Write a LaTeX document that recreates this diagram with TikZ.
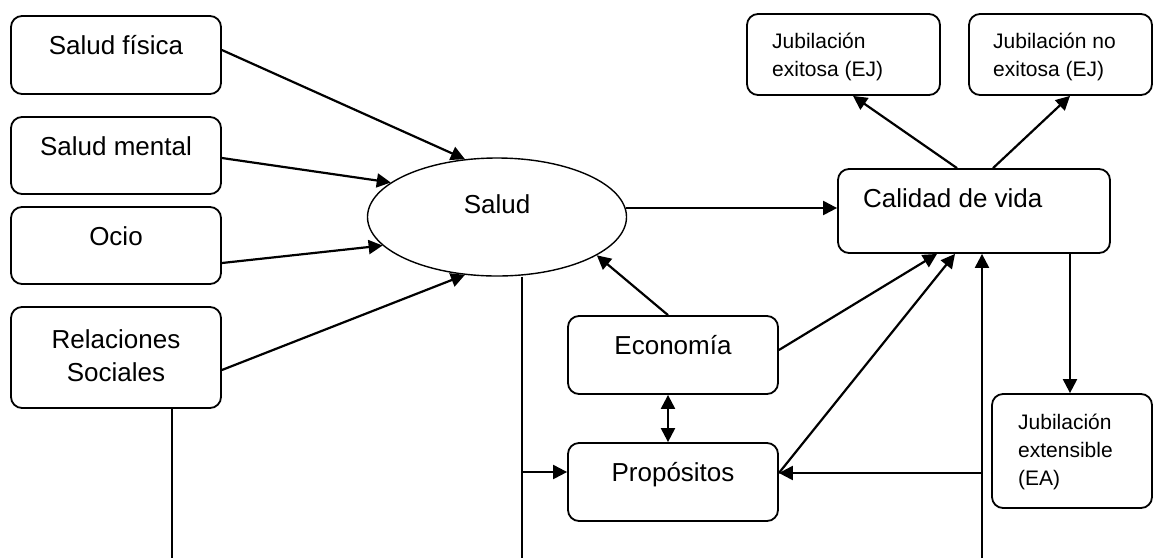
\documentclass[tikz,border=0pt]{standalone}
\usepackage{fontspec}
\setmainfont{Liberation Sans}
\usetikzlibrary{arrows.meta,shapes.geometric}
\tikzset{
  box/.style={draw, line width=1.8pt, rounded corners=11pt, inner sep=0pt},
  big/.style={font=\fontsize{26}{33}\selectfont, inner sep=0pt},
  small/.style={font=\fontsize{21}{28}\selectfont, inner sep=0pt, align=left},
  tipA/.tip={Triangle[length=14pt,width=14pt]},
  conn/.style={line width=2.2pt, -tipA},
  plain/.style={line width=2.2pt},
}
\begin{document}
\begin{tikzpicture}[x=1pt,y=-1pt]
\useasboundingbox (0,0) rectangle (1153,558);
% left boxes
\node[box, minimum width=210, minimum height=78] (sf) at (116,55) {};
\node[big, anchor=base] (tsf) at (116,54) {Salud física};
\node[box, minimum width=210, minimum height=77] (sm) at (116,155.5) {};
\node[big, anchor=base] (tsm) at (116,155) {Salud mental};
\node[box, minimum width=210, minimum height=77] (oc) at (116,245.5) {};
\node[big, anchor=base] (toc) at (116,245) {Ocio};
\node[box, minimum width=210, minimum height=101] (rs) at (116,357.5) {};
\node[big, anchor=base, align=center] (trs) at (116,381) {Relaciones\\Sociales};
% ellipse
\node[draw, ellipse, line width=1.4pt, minimum width=259, minimum height=118, inner sep=0pt] (sa) at (497,217) {};
\node[big, anchor=base] (tsa) at (497,213) {Salud};
% middle boxes
\node[box, minimum width=210, minimum height=78] (eco) at (673,355) {};
\node[big, anchor=base] (teco) at (673,354) {Economía};
\node[box, minimum width=210, minimum height=78] (prop) at (673,482) {};
\node[big, anchor=base] (tprop) at (673,481) {Propósitos};
% right boxes
\node[box, minimum width=272, minimum height=84] (cal) at (974,211) {};
\node[big, anchor=base west] (tcal) at (863,207) {Calidad de vida};
\node[box, minimum width=193, minimum height=81] (je) at (843.5,54.5) {};
\node[small, anchor=base west] (tje) at (772,76) {Jubilación\\exitosa (EJ)};
\node[box, minimum width=183, minimum height=81] (jne) at (1060.5,54.5) {};
\node[small, anchor=base west] (tjne) at (993,76) {Jubilación no\\exitosa (EJ)};
\node[box, minimum width=160, minimum height=114] (jext) at (1072,451) {};
\node[small, anchor=base west] (tjext) at (1018,485) {Jubilación\\extensible\\(EA)};
% free ends
\coordinate (rb) at (172,558);
\coordinate (sb) at (522,558);
\coordinate (cb) at (982,558);
% connectors
\draw[conn] ([yshift=5pt]sf.east) -- (sa.119.5);
\draw[conn] ([yshift=-2.5pt]sm.east) -- (sa.162);
\draw[conn] ([yshift=-17.5pt]oc.east) -- (sa.194);
\draw[conn] ([yshift=-12.5pt]rs.east) -- (sa.241);
\draw[conn] (sa.4.5) -- (sa.4.5 -| cal.west);
\draw[conn] ([xshift=-5pt]eco.north) -- (sa.339.4);
\draw[conn] ([yshift=5pt]eco.east) -- ([xshift=-37pt]cal.south);
\draw[conn] ([yshift=9pt]prop.east) -- ([xshift=-19pt]cal.south);
\draw[line width=2.2pt, tipA-tipA] ([xshift=-5pt]eco.south) -- ([xshift=-5pt]prop.north);
\draw[plain] (rb |- rs.south) -- (rb);
\draw[plain] (sb |- sa.south) -- (sb);
\draw[conn] ([yshift=10pt]prop.west -| sb) -- ([yshift=10pt]prop.west);
\draw[conn] (cb) -- (cb |- cal.south);
\draw[conn] ([yshift=9pt]prop.east -| cb) -- ([yshift=9pt]prop.east);
\draw[conn] ([xshift=-17pt]cal.north) -- ([xshift=9.5pt]je.south);
\draw[conn] ([xshift=19pt]cal.north) -- ([xshift=9.5pt]jne.south);
\draw[conn] ([xshift=-2pt]jext.north |- cal.south) -- ([xshift=-2pt]jext.north);
\end{tikzpicture}
\end{document}
